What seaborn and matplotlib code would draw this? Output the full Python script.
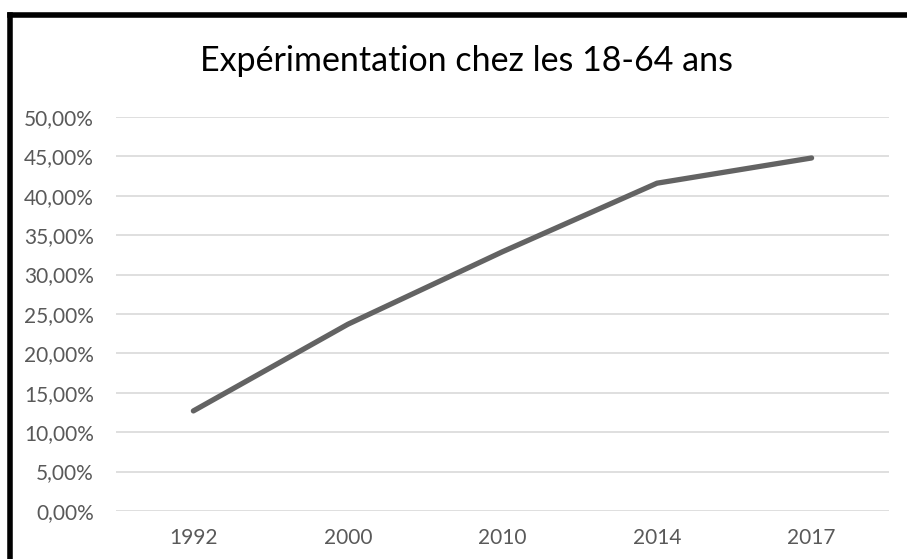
import matplotlib
matplotlib.use('Agg')
import matplotlib.pyplot as plt
from matplotlib.lines import Line2D
from matplotlib.ticker import FuncFormatter, MultipleLocator
import pandas as pd
import seaborn as sns

TITLE = 'Expérimentation chez les 18-64 ans'
YEARS = ['1992', '2000', '2010', '2014', '2017']
RATES = [12.7, 23.7, 32.9, 41.6, 44.8]

LINE_COLOR = '#636363'
TEXT_COLOR = '#595959'
GRID_COLOR = '#d9d9d9'

sns.set_theme(style='white')
plt.rcParams['font.family'] = ['Lato', 'DejaVu Sans']

df = pd.DataFrame({'year': YEARS, 'rate': RATES})

fig = plt.figure(figsize=(9.07, 5.59), dpi=100)
ax = fig.add_axes([0.128, 0.0859, 0.852, 0.7048])

sns.lineplot(data=df, x='year', y='rate', ax=ax, color=LINE_COLOR,
             linewidth=3.8, solid_capstyle='round', solid_joinstyle='round',
             zorder=3)

ax.set_ylim(0, 50)
ax.set_xlim(-0.5, len(YEARS) - 0.5)
ax.yaxis.set_major_locator(MultipleLocator(5))
ax.yaxis.set_major_formatter(
    FuncFormatter(lambda v, _: '{:.2f}%'.format(v).replace('.', ',')))
ax.grid(axis='y', color=GRID_COLOR, linewidth=1.2, zorder=0)
ax.set_axisbelow(True)
for spine in ax.spines.values():
    spine.set_visible(False)
ax.tick_params(axis='both', length=0, labelsize=15, colors=TEXT_COLOR)
ax.tick_params(axis='y', pad=16)
ax.tick_params(axis='x', pad=12)
ax.set_xlabel('')
ax.set_ylabel('')

fig.text(0.514, 0.873, TITLE, ha='center', va='baseline',
         fontsize=24.5, color='black')

# chart frame (only left and top edges are visible in the crop)
fig.add_artist(Line2D([0.0115, 0.0115], [0.0, 0.973], color='black',
                      linewidth=4, transform=fig.transFigure,
                      solid_capstyle='projecting'))
fig.add_artist(Line2D([0.0115, 1.0], [0.973, 0.973], color='black',
                      linewidth=4, transform=fig.transFigure,
                      solid_capstyle='projecting'))

fig.savefig('out.png', dpi=100)
